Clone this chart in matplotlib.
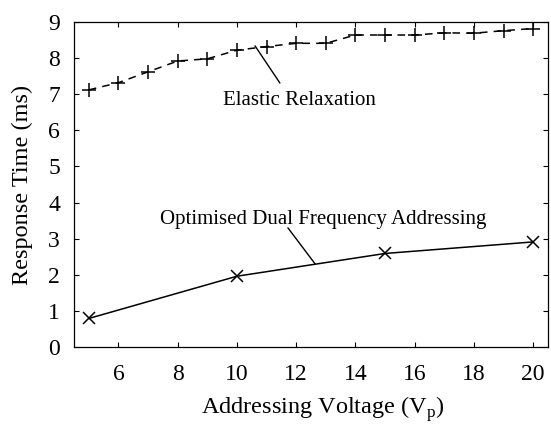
import matplotlib
matplotlib.use("Agg")
import matplotlib.pyplot as plt

plt.rcParams['font.family'] = ['Liberation Serif', 'DejaVu Serif']
plt.rcParams['mathtext.fontset'] = 'custom'
plt.rcParams['mathtext.rm'] = 'Liberation Serif'

# response time vs addressing voltage
elastic_v = [5, 6, 7, 8, 9, 10, 11, 12, 13, 14, 15, 16, 17, 18, 19, 20]
elastic_t = [7.12, 7.32, 7.62, 7.92, 7.98, 8.22, 8.32, 8.41, 8.41, 8.64,
             8.64, 8.64, 8.70, 8.69, 8.76, 8.82]

dual_v = [5, 10, 15, 20]
dual_t = [0.79, 1.96, 2.59, 2.91]

fig = plt.figure(figsize=(5.51, 4.25), dpi=100)
ax = fig.add_axes([74 / 551, 1 - 347 / 425, 474 / 551, 325 / 425])

ax.plot(elastic_v, elastic_t, color='black', lw=1.1, dashes=(5, 4),
        marker='+', ms=10, mew=1.1)
ax.plot(dual_v, dual_t, color='black', lw=1.1,
        marker='x', ms=8.5, mew=1.1)

ax.set_xlim(4.5, 20.5)
ax.set_ylim(0, 9)
ax.set_xticks(range(6, 21, 2))
ax.set_yticks(range(0, 10))
ax.tick_params(direction='in', top=True, right=True, length=3.8, width=0.8,
               labelsize=17)
ax.tick_params(axis='x', pad=12.5)
ax.tick_params(axis='y', pad=10)
for s in ax.spines.values():
    s.set_linewidth(0.9)

ax.set_xlabel('Addressing Voltage (V$_\\mathrm{p}$)', fontsize=17.5)
ax.set_ylabel('Response Time (ms)', fontsize=17.5, labelpad=11)
ax.xaxis.set_label_coords(0.525, -0.147)

# labels with leader lines
ax.annotate('', xy=(10.61, 8.34), xytext=(11.45, 7.31),
            arrowprops=dict(arrowstyle='-', color='black', lw=1.0,
                            shrinkA=0, shrinkB=0))
ax.text(9.53, 6.70, 'Elastic Relaxation', fontsize=15, va='baseline')

ax.annotate('', xy=(12.64, 2.30), xytext=(11.72, 3.30),
            arrowprops=dict(arrowstyle='-', color='black', lw=1.0,
                            shrinkA=0, shrinkB=0))
ax.text(7.40, 3.41, 'Optimised Dual Frequency Addressing', fontsize=15,
        va='baseline')

fig.savefig('out.png', dpi=100)
